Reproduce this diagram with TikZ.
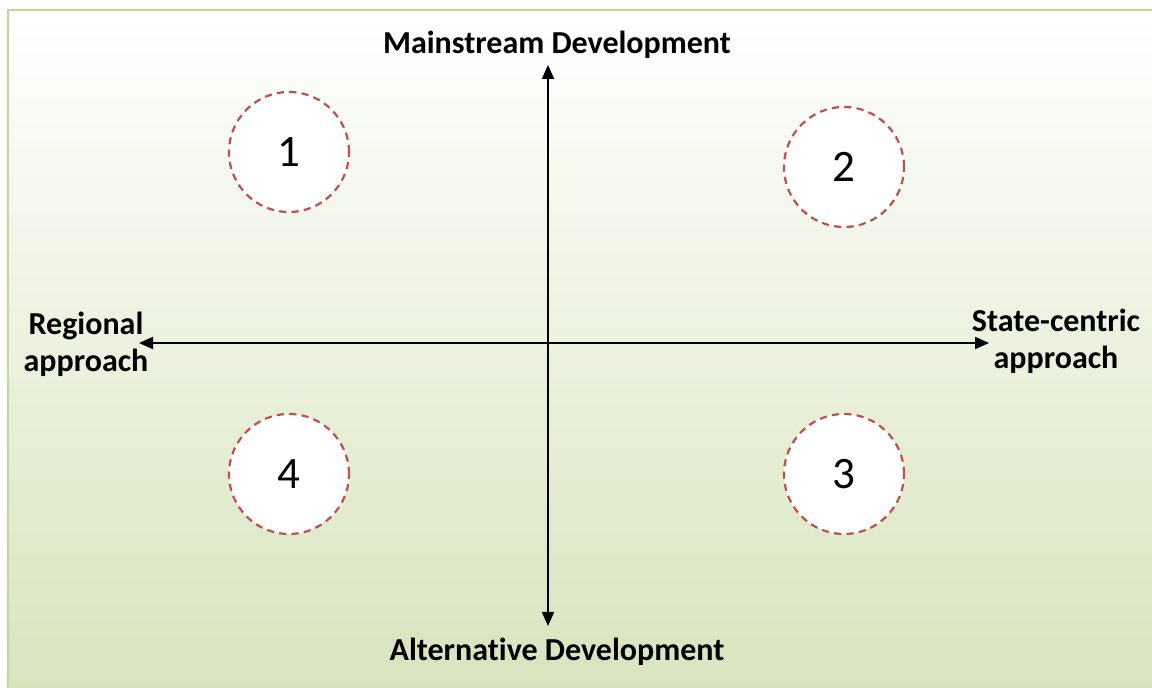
\documentclass[tikz,border=0pt]{standalone}
\usepackage{fontspec}
\setmainfont{Carlito}[Ligatures=NoCommon]
\usetikzlibrary{arrows.meta}
\definecolor{framegreen}{HTML}{C3D69B}
\definecolor{fillgreen}{HTML}{D7E4BD}
\definecolor{dashred}{HTML}{C0504D}

\begin{document}
\begin{tikzpicture}[x=0.5pt, y=-0.5pt,
    quadrant/.style={circle, draw=dashred, dash pattern=on 3.6pt off 2.6pt, line width=1.1pt,
        fill=white, minimum size=60pt, inner sep=0pt, font=\fontsize{22.5}{26}\selectfont},
    axislabel/.style={font=\fontsize{16}{18.5}\selectfont\bfseries, align=center, inner sep=0pt}]
    \useasboundingbox (0,0) rectangle (1152,688);
    \clip (0,0) rectangle (1152,688);
    % background panel
    \shade[top color=white, bottom color=fillgreen] (8,10) rectangle (1170,694);
    \draw[framegreen, line width=1.2pt] (8,694) -- (8,10) -- (1170,10);

    % axis ends
    \coordinate (top) at (548,65);
    \coordinate (bottom) at (548,626);
    \coordinate (left) at (139,343);
    \coordinate (right) at (989,343);
    \draw[{Triangle[length=7pt,width=6pt]}-{Triangle[length=7pt,width=6pt]}, line width=1pt]
        (left) -- (right);
    \draw[{Triangle[length=7pt,width=6pt]}-{Triangle[length=7pt,width=6pt]}, line width=1pt]
        (top) -- (bottom);

    % axis labels
    \node[axislabel, anchor=base] (mainstream) at (557,54) {Mainstream Development};
    \node[axislabel, anchor=base] (alternative) at (557,661) {Alternative Development};
    \node[axislabel] (regional) at (86,344) {Regional\\approach};
    \node[axislabel] (statecentric) at (1056,341) {State-centric\\approach};

    % quadrants
    \node[quadrant] (q1) at (289,152) {1};
    \node[quadrant] (q2) at (844,167) {2};
    \node[quadrant] (q3) at (844,474) {3};
    \node[quadrant] (q4) at (289,474) {4};
\end{tikzpicture}
\end{document}
